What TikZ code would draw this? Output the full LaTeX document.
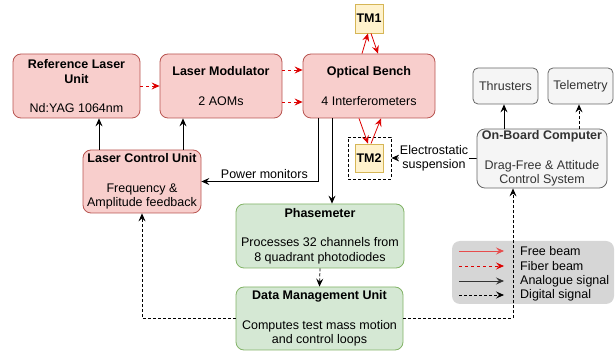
\documentclass[tikz,border=0pt]{standalone}
\usepackage{fontspec}
\setmainfont{Liberation Sans}
\usetikzlibrary{arrows.meta}
\definecolor{rf}{HTML}{F8CECC}
\definecolor{rb}{HTML}{B85450}
\definecolor{gf}{HTML}{D5E8D4}
\definecolor{gb}{HTML}{82B366}
\definecolor{yf}{HTML}{FFF2CC}
\definecolor{yb}{HTML}{D6B656}
\definecolor{sf}{HTML}{F5F5F5}
\definecolor{sb}{HTML}{666666}
\definecolor{st}{HTML}{333333}
\definecolor{lg}{HTML}{D6D6D6}
\definecolor{beamred}{HTML}{DD0000}
\newcommand\myfs{\fontsize{12.5}{14.8}\selectfont}
\begin{document}
\begin{tikzpicture}[x=1pt,y=-1pt,
  >={Stealth[length=8pt,width=7pt,inset=3pt]},
  every node/.style={font=\myfs},
  basebox/.style={rounded corners=8pt, line width=0.8pt, align=center, inner sep=1.5pt},
  redbox/.style={basebox, draw=rb, fill=rf},
  greenbox/.style={basebox, draw=gb, fill=gf},
  graybox/.style={basebox, draw=sb, fill=sf, text=st},
  tmbox/.style={draw=yb, fill=yf, line width=0.8pt, inner sep=1pt, font=\myfs\bfseries},
  beam/.style={->, draw=beamred, line width=0.8pt},
  fiber/.style={beam, dash pattern=on 3pt off 3pt},
  sig/.style={->, draw=black, line width=0.8pt},
  dig/.style={sig, dash pattern=on 3pt off 2pt},
]
\useasboundingbox (0,0) rectangle (616,352);

% legend background
\node[fill=lg, rounded corners=8pt, minimum width=162pt, minimum height=63pt, inner sep=0pt] (leg) at (533,272.5) {};

% boxes
\node[redbox, minimum width=127pt, minimum height=64pt] (rlu) at (76.5,86)
  {\textbf{Reference Laser}\\\textbf{Unit}\\[14.8pt]Nd:YAG 1064nm};
\node[redbox, minimum width=122pt, minimum height=64pt] (lm) at (221,86)
  {\textbf{Laser Modulator}\\[14.8pt]2 AOMs};
\node[redbox, minimum width=132pt, minimum height=64pt] (ob) at (369,86)
  {\textbf{Optical Bench}\\[14.8pt]4 Interferometers};
\node[tmbox, minimum width=28pt, minimum height=29pt] (tm1) at (369,18.5) {TM1};
\node[draw=black, dash pattern=on 3pt off 2pt, line width=0.8pt, minimum width=43pt, minimum height=42pt] (tm2box) at (369.5,158) {};
\node[tmbox, minimum width=28pt, minimum height=28pt] (tm2) at (369,158) {TM2};
\node[redbox, minimum width=118pt, minimum height=63pt] (lcu) at (142,181.5)
  {\textbf{Laser Control Unit}\\[14.8pt]Frequency \&\\Amplitude feedback};
\node[greenbox, minimum width=168pt, minimum height=64pt] (pm) at (320,236)
  {\textbf{Phasemeter}\\[14.8pt]Processes 32 channels from\\8 quadrant photodiodes};
\node[greenbox, minimum width=167pt, minimum height=63pt] (dmu) at (319.5,318.5)
  {\textbf{Data Management Unit}\\[14.8pt]Computes test mass motion\\and control loops};
\node[graybox, rounded corners=5pt, minimum width=65pt, minimum height=36pt] (thr) at (505.5,86) {Thrusters};
\node[graybox, rounded corners=5pt, minimum width=65pt, minimum height=36pt] (tel) at (580.5,86) {Telemetry};
\node[graybox, minimum width=130pt, minimum height=59pt] (obc) at (542,158.5)
  {\textbf{On-Board Computer}\\[14.8pt]Drag-Free \& Attitude\\Control System};

% fiber beams
\draw[fiber] (rlu.east) -- (lm.west);
\draw[fiber] ([yshift=16pt]lm.east) -- ([yshift=16pt]ob.west);
\draw[fiber] ([yshift=-16pt]lm.east) -- ([yshift=-16pt]ob.west);

% free beams
\draw[beam] ([xshift=-7pt]ob.north) -- ([xshift=-1pt]tm1.south);
\draw[beam] ([xshift=2pt]tm1.south) -- ([xshift=9pt]ob.north);
\draw[beam] ([xshift=-10pt]ob.south) -- ([xshift=-1pt]tm2.north);
\draw[beam] ([xshift=2pt]tm2.north) -- ([xshift=12pt]ob.south);

% analogue signals
\draw[sig] ([xshift=-43pt]lcu.north) -- ([xshift=22.5pt]rlu.south);
\draw[sig] ([xshift=41pt]lcu.north) -- ([xshift=-38pt]lm.south);
\draw[sig] ([xshift=-51pt]ob.south) |- (lcu.east)
  node[pos=0.73, above, inner sep=2pt] (pmlabel) {Power monitors};
\draw[sig] ([xshift=-37pt]ob.south) -- ([xshift=12pt]pm.north);
\draw[sig] ([xshift=-38pt]obc.north) -- ([xshift=-1.5pt]thr.south);
\draw[sig] (obc.west) -- (tm2box.east)
  node[midway, fill=white, align=center, inner sep=1pt] (eslabel) {Electrostatic\\suspension};

% digital signals
\draw[dig] (pm.south) -- (dmu.north);
\draw[dig] (dmu.west) -| (lcu.south);
\draw[dig] (dmu.east) -| ([xshift=-29pt]obc.south);
\draw[dig] ([xshift=37pt]obc.north) -- ([xshift=-1.5pt]tel.south);

% legend
\coordinate (l1a) at (459,251); \coordinate (l1b) at (504,251);
\coordinate (l2a) at (459,266); \coordinate (l2b) at (504,266);
\coordinate (l3a) at (459,281); \coordinate (l3b) at (504,281);
\coordinate (l4a) at (459,295); \coordinate (l4b) at (504,295);
\draw[beam, draw=beamred!70] (l1a) -- (l1b);
\draw[fiber] (l2a) -- (l2b);
\draw[sig, draw=black!80] (l3a) -- (l3b);
\draw[dig] (l4a) -- (l4b);
\node[anchor=west, inner sep=0pt] (t1) at (520,251) {Free beam};
\node[anchor=west, inner sep=0pt] (t2) at (520,266) {Fiber beam};
\node[anchor=west, inner sep=0pt] (t3) at (520,281) {Analogue signal};
\node[anchor=west, inner sep=0pt] (t4) at (520,295) {Digital signal};
\end{tikzpicture}
\end{document}
